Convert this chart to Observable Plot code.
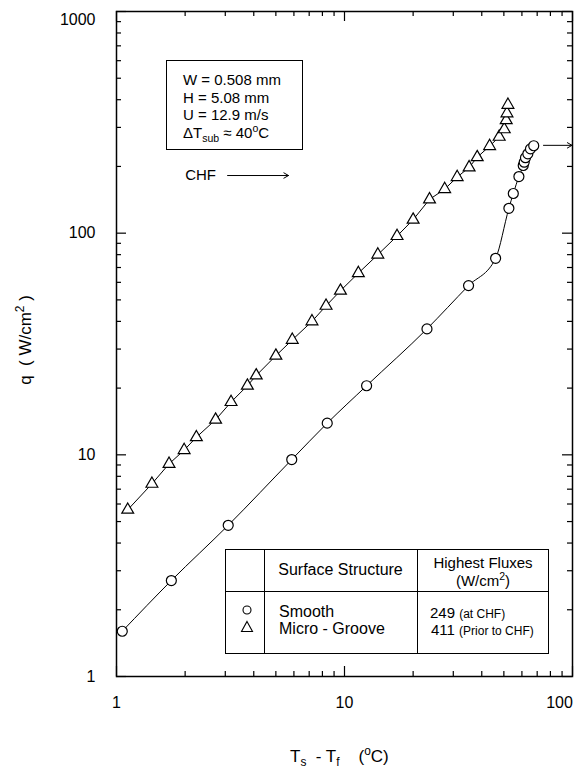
<!DOCTYPE html>
<html><head><meta charset="utf-8">
<script src="https://cdn.jsdelivr.net/npm/d3@7"></script>
<script src="https://cdn.jsdelivr.net/npm/@observablehq/plot@0.6"></script>
<style>
body{margin:0;background:#fff;font-family:"Liberation Sans",Arial,Helvetica,sans-serif;}
#wrap{position:relative;width:575px;height:774px;overflow:hidden;}
.abs{position:absolute;color:#000;white-space:nowrap;line-height:1;}
sub,sup{font-size:70%;line-height:0;}
</style></head><body><div id="wrap"></div>
<script>
// Smooth surface (circles)
const smoothX=[1.06,1.74,3.09,5.87,8.4,12.5,23,35,46,52.6,55,58.2,60.8,61.4,62.2,63.7,65.4,67.6];
const smoothY=[1.60,2.71,4.81,9.52,13.9,20.5,37,58,77,129.5,151,180,202,209,219,228,240,248];
// Micro-groove surface (triangles)
const grooveX=[1.12,1.43,1.70,1.98,2.24,2.72,3.18,3.75,4.1,5.0,5.9,7.2,8.3,9.6,11.5,14,17,20,23.6,27.5,31.2,35.2,38.2,43.3,47.7,50.2,51.2,51.6,52.1];
const grooveY=[5.65,7.4,9.1,10.5,12.0,14.4,17.3,20.5,22.8,28,33,40,47,55,66,80,97,115,142,158,179,198,220,247,272,294,323,347,379];
// Tick values / labels
const xMajor=[1,10,100];
const xMinor=[2,3,4,5,6,7,8,9,20,30,40,50,60,70,80,90];
const yMajor=[1,10,100,1000];
const yMinor=[2,3,4,5,6,7,8,9,20,30,40,50,60,70,80,90,200,300,400,500,600,700,800,900];
const xLabels=["1","10","100"];
const yLabels=["1","10","100","1000"];
// CHF annotations (data units)
const chfQ=249;

const W=575,H=774,mL=116,mR=3,mT=11,mB=98;
const fw=W-mL-mR, fh=H-mT-mB;
const smooth=smoothX.map((x,i)=>({x,y:smoothY[i]}));
const groove=grooveX.map((x,i)=>({x,y:grooveY[i]}));
const font='"Liberation Sans",Arial,Helvetica,sans-serif';
const bigT=10, smT=5;

const plot=Plot.plot({
  width:W,height:H,marginLeft:mL,marginRight:mR,marginTop:mT,marginBottom:mB,
  x:{type:"log",domain:[1,100],axis:null},
  y:{type:"log",domain:[1,1000],axis:null},
  style:{fontFamily:font,fontSize:"16px",background:"white",color:"black",overflow:"visible"},
  marks:[
    Plot.tickX(xMajor,{x:d=>d,insetTop:fh-bigT,stroke:"black",strokeWidth:1.2}),
    Plot.tickX(xMinor,{x:d=>d,insetTop:fh-smT,stroke:"black",strokeWidth:1.2}),
    Plot.tickX(xMajor,{x:d=>d,insetBottom:fh-bigT,stroke:"black",strokeWidth:1.2}),
    Plot.tickX(xMinor,{x:d=>d,insetBottom:fh-smT,stroke:"black",strokeWidth:1.2}),
    Plot.tickY(yMajor,{y:d=>d,insetRight:fw-bigT,stroke:"black",strokeWidth:1.2}),
    Plot.tickY(yMinor,{y:d=>d,insetRight:fw-smT,stroke:"black",strokeWidth:1.2}),
    Plot.tickY(yMajor,{y:d=>d,insetLeft:fw-bigT,stroke:"black",strokeWidth:1.2}),
    Plot.tickY(yMinor,{y:d=>d,insetLeft:fw-smT,stroke:"black",strokeWidth:1.2}),
    Plot.frame({stroke:"black",strokeWidth:1.5}),
    Plot.text(xMajor.slice(0,2),{x:d=>d,text:(d,i)=>xLabels[i],frameAnchor:"bottom",dy:31,fontSize:16}),
    Plot.text(xMajor.slice(2),{x:d=>d,text:()=>xLabels[2],frameAnchor:"bottom",dy:31,dx:-13,fontSize:16}),
    Plot.text(yMajor.slice(0,3),{y:d=>d,text:(d,i)=>yLabels[i],frameAnchor:"left",textAnchor:"end",dx:-21,fontSize:16}),
    Plot.text(yMajor.slice(3),{y:d=>d,text:()=>yLabels[3],frameAnchor:"left",textAnchor:"end",dx:-21,dy:8,fontSize:16}),
    Plot.line(smooth,{x:"x",y:"y",curve:"monotone-x",stroke:"black",strokeWidth:1}),
    Plot.line(groove,{x:"x",y:"y",stroke:"black",strokeWidth:1}),
    Plot.dot(smooth,{x:"x",y:"y",r:5,fill:"white",stroke:"black",strokeWidth:1.2}),
    Plot.dot(groove,{x:"x",y:"y",r:4.4,symbol:"triangle",fill:"white",stroke:"black",strokeWidth:1.2}),
    Plot.text(["CHF"],{x:()=>2.0,y:()=>182,text:d=>d,textAnchor:"start",fontSize:15}),
    Plot.arrow([0],{x1:()=>3.07,x2:()=>5.68,y1:()=>182,y2:()=>182,stroke:"black",strokeWidth:1,headLength:8}),
    Plot.arrow([0],{x1:()=>74.6,x2:()=>99.5,y1:()=>chfQ,y2:()=>chfQ,stroke:"black",strokeWidth:1,headLength:8})
  ]
});
const wrap=document.getElementById("wrap");
wrap.appendChild(plot);

function add(html,css){const d=document.createElement("div");d.className="abs";d.innerHTML=html;Object.assign(d.style,css);wrap.appendChild(d);return d;}
add(`<div style="line-height:17.7px;font-size:15px">W = 0.508 mm<br>H = 5.08 mm<br>U = 12.9 m/s<br>&Delta;T<sub>sub</sub> &asymp; 40<sup>o</sup>C</div>`,
  {left:"166px",top:"60px",width:"119px",height:"78px",border:"1.2px solid #000",padding:"10px 0 0 16px",boxSizing:"content-box"});
add(`T<sub>s</sub>&nbsp; - T<sub>f</sub>&nbsp;&nbsp;&nbsp; (<sup>o</sup>C)`,{left:"290px",top:"748px",fontSize:"17px"});
add(`q &nbsp;( W/cm<sup>2</sup> )`,{left:"25px",top:"340px",fontSize:"17px",transform:"translate(-50%,-50%) rotate(-90deg)"});
const L=225,T=549,R=549,B=654,c1=264,c2=417,hr=591;
add("",{left:L+"px",top:T+"px",width:(R-L)+"px",height:(B-T)+"px",border:"1.2px solid #000",boxSizing:"border-box"});
add("",{left:c1+"px",top:T+"px",width:"0",height:(B-T)+"px",borderLeft:"1.2px solid #000"});
add("",{left:c2+"px",top:T+"px",width:"0",height:(B-T)+"px",borderLeft:"1.2px solid #000"});
add("",{left:L+"px",top:hr+"px",width:(R-L)+"px",height:"0",borderTop:"1.2px solid #000"});
add("Surface Structure",{left:(c1+c2)/2+"px",top:"570px",fontSize:"16px",transform:"translate(-50%,-50%)"});
add("Highest Fluxes",{left:(c2+R)/2+"px",top:"562px",fontSize:"15px",transform:"translate(-50%,-50%)"});
add("(W/cm<sup>2</sup>)",{left:(c2+R)/2+"px",top:"580px",fontSize:"15px",transform:"translate(-50%,-50%)"});
add(`<svg width="12" height="12"><circle cx="6" cy="6" r="4" fill="none" stroke="#000" stroke-width="1.1"/></svg>`,{left:"247px",top:"611px",transform:"translate(-50%,-50%)"});
add(`<svg width="14" height="14"><path d="M7,2 L12.5,12 L1.5,12 Z" fill="none" stroke="#000" stroke-width="1.1"/></svg>`,{left:"247px",top:"628px",transform:"translate(-50%,-50%)"});
add("Smooth",{left:"279px",top:"612px",fontSize:"16px",transform:"translate(0,-50%)"});
add("Micro - Groove",{left:"279px",top:"629px",fontSize:"16px",transform:"translate(0,-50%)"});
add(`249 <span style="font-size:12px">(at CHF)</span>`,{left:"430px",top:"612px",fontSize:"15px",transform:"translate(0,-50%)"});
add(`411 <span style="font-size:12px">(Prior to CHF)</span>`,{left:"431px",top:"629px",fontSize:"15px",transform:"translate(0,-50%)"});
</script></body></html>
